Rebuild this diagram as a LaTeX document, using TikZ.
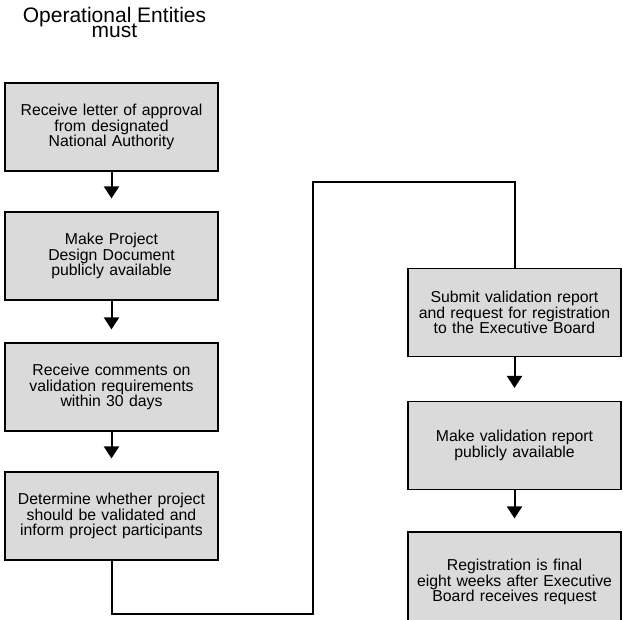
\documentclass[tikz,border=0pt]{standalone}
\usepackage{fontspec}
\setmainfont{Liberation Sans}
\usetikzlibrary{arrows.meta}
\definecolor{boxgray}{HTML}{DADADA}
\tikzset{
  stepbox/.style={draw=black, line width=1.1pt, fill=boxgray,
    minimum width=213pt, minimum height=88pt, inner sep=0pt,
    text width=207pt, align=center,
    font=\fontsize{15.8}{15.5}\selectfont},
  titletext/.style={anchor=base, inner sep=0pt, font=\fontsize{21}{21}\selectfont},
  flow/.style={line width=2pt, -{Triangle[length=12pt,width=15pt]}, shorten >=13pt},
  link/.style={line width=2pt}
}
\begin{document}
\begin{tikzpicture}[x=1pt,y=1pt]
\useasboundingbox (0,0) rectangle (623,-620);

% heading, two closely set lines
\node[titletext] (title1) at (114.5,-22.3) {Operational Entities};
\node[titletext] (title2) at (114.5,-37.5) {must};

% left column
\node[stepbox] (b1) at (111.5,-127) {Receive letter of approval\\from designated\\National Authority};
\node[stepbox] (b2) at (111.5,-256) {Make Project\\Design Document\\publicly available};
\node[stepbox] (b3) at (111.5,-387) {Receive comments on\\validation requirements\\within 30 days};
\node[stepbox] (b4) at (111.5,-516) {Determine whether project\\should be validated and\\inform project participants};

% right column
\node[stepbox] (b5) at (514.5,-312.5) {Submit validation report\\and request for registration\\to the Executive Board};
\node[stepbox] (b6) at (514.5,-445.5) {Make validation report\\publicly available};
\node[stepbox, minimum height=100pt] (b7) at (514.5,-582) {Registration is final\\eight weeks after Executive\\Board receives request};

% arrows
\draw[flow] (b1.south) -- (b2.north);
\draw[flow] (b2.south) -- (b3.north);
\draw[flow] (b3.south) -- (b4.north);
\draw[flow] (b5.south) -- (b6.north);
\draw[flow] (b6.south) -- (b7.north);

% crossover from left column to right column
\coordinate (c1) at (313,-614);
\coordinate (c2) at (313,-182);
\draw[link] (b4.south) |- (c1) -- (c2) -| (b5.north);
\end{tikzpicture}
\end{document}
